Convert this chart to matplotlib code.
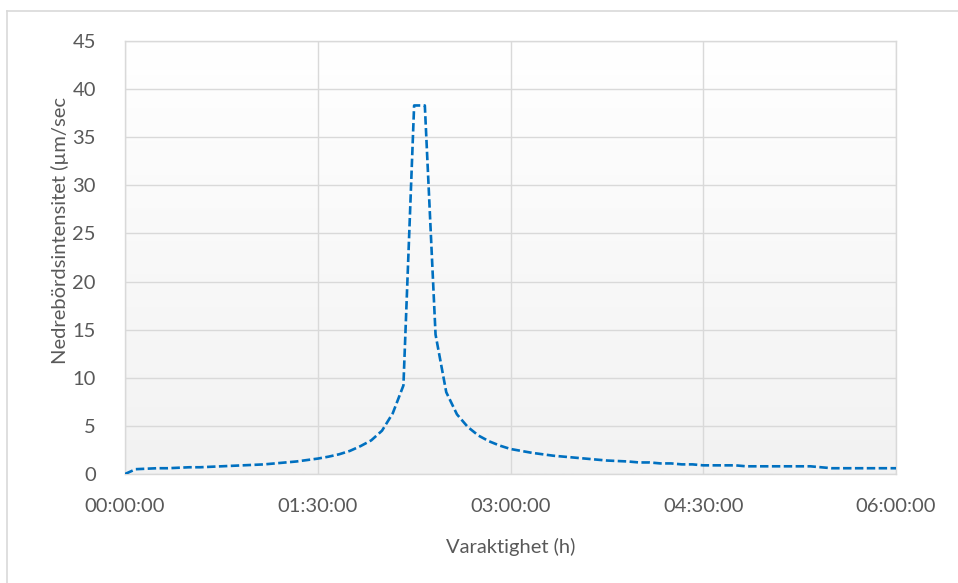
import numpy as np
import matplotlib.pyplot as plt
from matplotlib.ticker import FuncFormatter, MultipleLocator

# nederbördsintensitet var 5:e minut (µm/s)
minutes = np.arange(0, 365, 5)
intensity = [
    0.0, 0.5, 0.55, 0.6, 0.6, 0.65, 0.7, 0.7, 0.75, 0.8,
    0.85, 0.9, 0.95, 1.0, 1.1, 1.2, 1.3, 1.45, 1.6, 1.8,
    2.05, 2.4, 2.9, 3.5, 4.5, 6.3, 9.2, 38.3, 38.3, 14.5,
    8.5, 6.2, 4.9, 4.0, 3.4, 2.95, 2.6, 2.4, 2.2, 2.05,
    1.9, 1.8, 1.7, 1.6, 1.5, 1.4, 1.35, 1.3, 1.2, 1.2,
    1.1, 1.1, 1.0, 1.0, 0.9, 0.9, 0.9, 0.9, 0.8, 0.8,
    0.8, 0.8, 0.8, 0.8, 0.8, 0.7, 0.6, 0.6, 0.6, 0.6,
    0.6, 0.6, 0.6,
]
xticks_min = [0, 90, 180, 270, 360]

TXT = '#595959'
GRID = '#d9d9d9'

plt.rcParams['font.family'] = ['Lato', 'DejaVu Sans']

fig = plt.figure(figsize=(9.58, 5.83), dpi=100)
W, H = 958, 583

# ram runt diagrammet (bara vänster och överkant syns)
frame = fig.add_axes([7 / W, -0.1, 1.2, (583 - 11) / H + 0.1])
frame.set_xticks([])
frame.set_yticks([])
frame.set_facecolor('none')
for s in frame.spines.values():
    s.set_color(GRID)
    s.set_linewidth(1.2)

ax = fig.add_axes([125 / W, (583 - 474) / H, (896 - 125) / W, (474 - 41) / H])

# gradient i ritytan, vit upptill, ljusgrå nedtill
grad = np.linspace(1.0, 0.0, 256).reshape(-1, 1)
ax.imshow(grad, extent=[0, 1, 0, 1], transform=ax.transAxes, aspect='auto',
          cmap=plt.matplotlib.colors.LinearSegmentedColormap.from_list(
              'g', ['#f2f2f2', '#ffffff']), zorder=0)

ax.plot(minutes, intensity, color='#0070C0', lw=1.9, linestyle=(0, (3.2, 1.3)),
        zorder=3, dash_capstyle='butt')

ax.set_xlim(0, 360)
ax.set_ylim(0, 45)
ax.set_xticks(xticks_min)
ax.xaxis.set_major_formatter(FuncFormatter(
    lambda v, p: '%02d:%02d:00' % (int(v) // 60, int(v) % 60)))
ax.yaxis.set_major_locator(MultipleLocator(5))

ax.grid(True, color=GRID, lw=1.0, zorder=1)
ax.set_axisbelow(True)
for s in ax.spines.values():
    s.set_color(GRID)
    s.set_linewidth(1.0)

ax.tick_params(length=0, labelsize=14.5, colors=TXT)
ax.tick_params(axis='x', pad=17)
ax.tick_params(axis='y', pad=21)

ax.set_xlabel('Varaktighet (h)', fontsize=14.5, color=TXT, labelpad=17)
ax.set_ylabel('Nedrebördsintensitet (µm/sec', fontsize=14.5, color=TXT)
ax.yaxis.set_label_coords(-0.073, 0.563)

fig.savefig('out.png', dpi=100)
